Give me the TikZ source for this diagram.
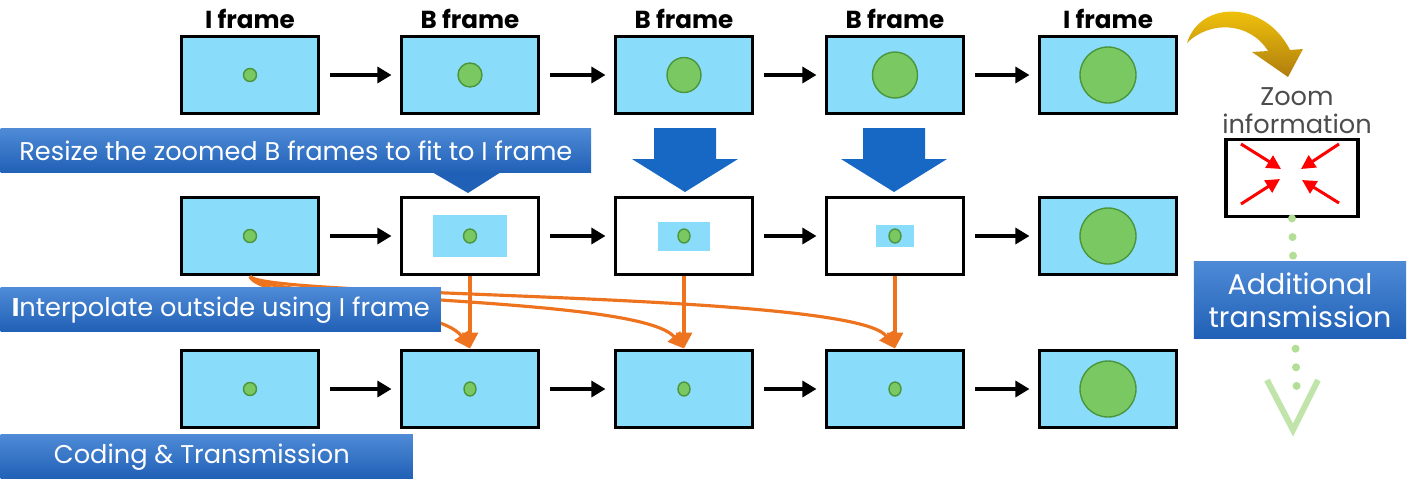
\documentclass[tikz,border=0pt]{standalone}
\usepackage{fontspec}
\setmainfont{Poppins}
\definecolor{scr}{RGB}{138,221,250}
\definecolor{blob}{RGB}{122,200,98}
\definecolor{blobedge}{RGB}{75,150,60}
\definecolor{bnrtop}{RGB}{78,138,214}
\definecolor{bnrbot}{RGB}{32,96,182}
\definecolor{bigarr}{RGB}{22,104,196}
\definecolor{orng}{RGB}{238,115,30}
\definecolor{dotg}{RGB}{178,222,150}
\definecolor{gold1}{RGB}{250,205,10}
\definecolor{gold2}{RGB}{175,125,15}
\usetikzlibrary{positioning,arrows.meta,calc}

\begin{document}
\begin{tikzpicture}
  [x=0.01cm,y=-0.01cm,
   frame/.style={rectangle,draw=black,line width=1.1pt,fill=scr,
     minimum width=1.37cm,minimum height=0.77cm,inner sep=0pt},
   crop/.style={rectangle,fill=scr,inner sep=0pt},
   lbl/.style={font=\fontsize{7}{8}\selectfont\bfseries,inner sep=0.5pt},
   blob/.style={fill=blob,draw=blobedge,line width=0.4pt},
   nxt/.style={-{Triangle[length=4pt,width=4.5pt]},line width=1.1pt,
     shorten <=0.1cm,shorten >=0.08cm},
   banner/.style={rectangle,inner sep=0pt,top color=bnrtop,bottom color=bnrbot,
     text=white,font=\fontsize{7.3}{9}\selectfont},
   fetch/.style={-{Triangle[length=4.5pt,width=4.5pt]},orng,line width=0.9pt},
   zoomin/.style={-{Triangle[length=4pt,width=4pt]},red,line width=0.85pt}]

  \useasboundingbox (0,0) rectangle (1414,478);

  % three rows of frames
  \foreach \c [count=\i] in {250,470,684,895,1108} {
    \node[frame] (top\i) at (\c,75) {};
    \node[frame] (bot\i) at (\c,389) {};
  }
  \node[frame] (mid1) at (250,236) {};
  \node[frame,fill=white] (mid2) at (470,236) {};
  \node[frame,fill=white] (mid3) at (684,236) {};
  \node[frame,fill=white] (mid4) at (895,236) {};
  \node[frame] (mid5) at (1108,236) {};

  \node[crop,minimum width=0.74cm,minimum height=0.42cm] (cut2) at (mid2) {};
  \node[crop,minimum width=0.51cm,minimum height=0.29cm] (cut3) at (mid3) {};
  \node[crop,minimum width=0.38cm,minimum height=0.22cm] (cut4) at (mid4) {};

  % objects
  \foreach \fr/\rx/\ry in {top1/6.5/6.5,top2/12/12,top3/17/17.5,top4/22.5/23,top5/28/28,
      mid1/6.5/6.5,mid2/6.5/7,mid3/6/7,mid4/6/7,mid5/28/28,
      bot1/6.5/6.5,bot2/6/7,bot3/6/7,bot4/6/7,bot5/28/28}
    \draw[blob] (\fr.center) ellipse[x radius=\rx,y radius=\ry];

  \node[lbl,above=1pt of top1] (l1) {I frame};
  \node[lbl,above=1pt of top2] (l2) {B frame};
  \node[lbl,above=1pt of top3] (l3) {B frame};
  \node[lbl,above=1pt of top4] (l4) {B frame};
  \node[lbl,above=1pt of top5] (l5) {I frame};

  \foreach \r in {top,mid,bot}
    \foreach \i/\j in {1/2,2/3,3/4,4/5}
      \draw[nxt] (\r\i) -- (\r\j);

  % orange fetches
  \draw[fetch] (mid1.south) .. controls (258,300) and (440,305) .. (bot2.north);
  \draw[fetch] (mid1.south) .. controls (264,302) and (640,296) .. (bot3.north);
  \draw[fetch] (mid1.south) .. controls (268,298) and (855,292) .. (bot4.north);
  \foreach \i in {2,3,4}
    \draw[fetch] (mid\i.south) -- (bot\i.north);

  % big blue arrows
  \foreach \c in {685,894}
    \fill[bigarr] ({\c-31},128) -- ({\c+31},128) -- ({\c+31},159) -- ({\c+53},159)
      -- (\c,192) -- ({\c-53},159) -- ({\c-31},159) -- cycle;

  % banners
  \node[banner,anchor=north west,minimum width=5.9cm,minimum height=0.44cm] (resize)
    at (0,128) {Resize the zoomed B frames to fit to I frame};
  \fill[bnrbot] (432,172) -- (468,193) -- (501,172) -- cycle;
  \node[banner,anchor=north west,minimum width=4.4cm,minimum height=0.44cm] (interp)
    at (0,287) {{\bfseries I}nterpolate outside using I frame};
  \node[banner,anchor=north west,minimum width=4.12cm,minimum height=0.44cm] (coding)
    at (0,434) {\hspace*{-0.1cm}Coding \& Transmission};

  % zoom side
  \shade[top color=gold1,bottom color=gold2] (1187,43) .. controls (1200,0) and (1265,0) .. (1290,50)
    -- (1303,49) -- (1288,77) -- (1252,52) -- (1268,51) .. controls (1250,22) and (1210,20) .. (1187,43) -- cycle;
  \node[font=\fontsize{7.3}{8}\selectfont,text=black!70,align=center] (zinfo) at (1297,111) {Zoom\\information};
  \node[frame,fill=white,minimum width=1.32cm] (zbox) at (1292,178) {};
  \draw[zoomin] (1241,144) -- (1281,169);
  \draw[zoomin] (1339,144) -- (1301,169);
  \draw[zoomin] (1241,204) -- (1280,179);
  \draw[zoomin] (1339,203) -- (1302,180);

  \coordinate (vend) at (1297,402);
  \draw[dotg,line width=0.08cm,line cap=round,dash pattern=on 0pt off 0.186cm] (zbox.south) -- (vend);
  \draw[dotg!80!white,line width=0.06cm] (1267,380) -- (1293,430) -- (1318,380);
  \node[banner,minimum width=2.12cm,minimum height=0.77cm,align=center,
    font=\fontsize{8.1}{9.5}\selectfont] (addtx) at (1300,300) {Additional\\transmission};
\end{tikzpicture}
\end{document}
